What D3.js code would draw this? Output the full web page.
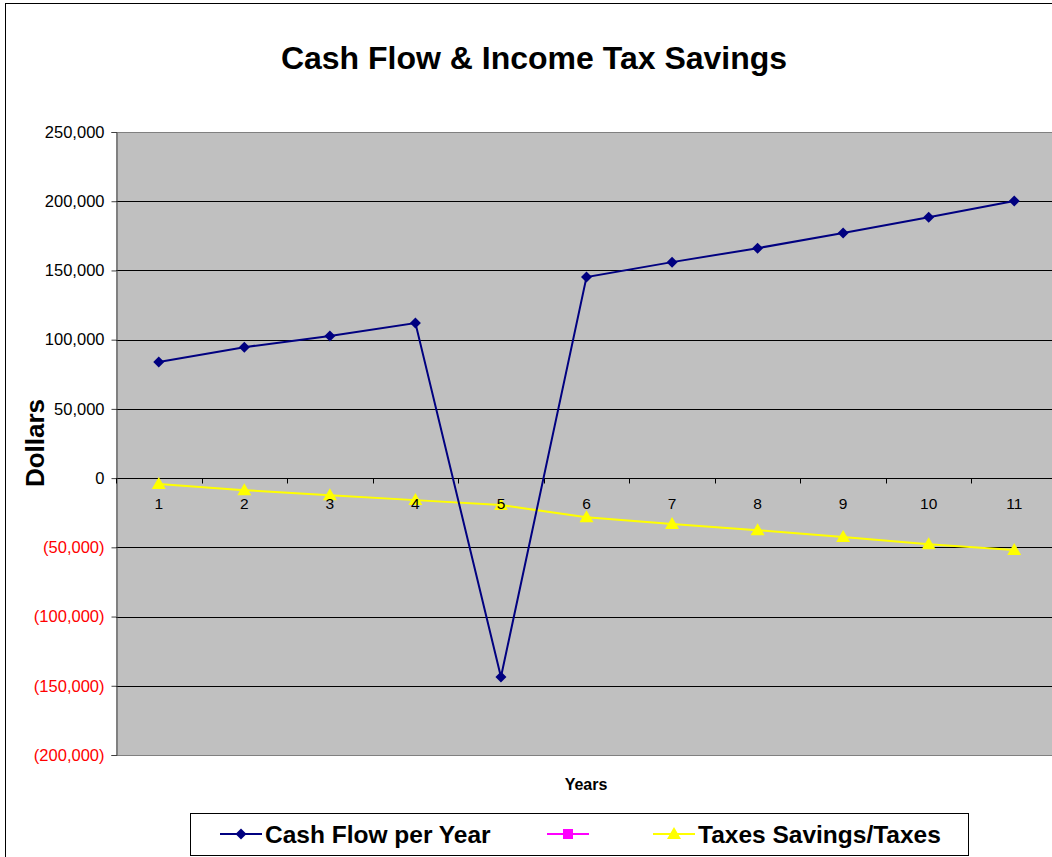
<!DOCTYPE html>
<html>
<head>
  <meta charset="utf-8">
  <title>Cash Flow & Income Tax Savings</title>
  <script src="https://cdn.jsdelivr.net/npm/d3@7"></script>
  <style>
    body { margin: 0; background: #fff; }
    text { font-family: Arial, "Liberation Sans", sans-serif; }
  </style>
</head>
<body>
  <script type="text/javascript">
    // data
    var years = [1, 2, 3, 4, 5, 6, 7, 8, 9, 10, 11];
    var cashFlow = [83800, 94600, 102600, 112000, -143700, 145200, 156000, 166100, 177000, 188500, 200100];
    var taxSavings = [-4300, -8700, -12300, -15900, -19500, -28200, -33200, -37600, -42600, -47700, -52000];
    var blankSeries = []; // third series has no visible points
    var yTicks = [250000, 200000, 150000, 100000, 50000, 0, -50000, -100000, -150000, -200000];
    var legendNames = ["Cash Flow per Year", "", "Taxes Savings/Taxes"];

    var w = 1052, h = 857;
    var plot = { left: 116, right: 1057, top: 132, bottom: 755 };

    var svg = d3.select("body").append("svg")
      .attr("width", w)
      .attr("height", h);

    // outer chart border (runs off the window on right and bottom)
    svg.append("rect")
      .attr("x", 5.5).attr("y", 3.5)
      .attr("width", 1100).attr("height", 900)
      .attr("fill", "#fff").attr("stroke", "#000");

    var x = d3.scaleBand().domain(years).range([plot.left, plot.right]).padding(0);
    var y = d3.scaleLinear().domain([-200000, 250000]).range([plot.bottom, plot.top]);
    var cx = d => x(d) + x.bandwidth() / 2;

    // plot background
    svg.append("rect")
      .attr("x", plot.left).attr("y", plot.top)
      .attr("width", plot.right - plot.left).attr("height", plot.bottom - plot.top)
      .attr("fill", "#c0c0c0");

    // gridlines
    svg.append("g").selectAll("line")
      .data(yTicks)
      .enter().append("line")
      .attr("x1", plot.left).attr("x2", plot.right)
      .attr("y1", d => Math.round(y(d)) + 0.5).attr("y2", d => Math.round(y(d)) + 0.5)
      .attr("stroke", d => (d === 250000 || d === -200000) ? "#808080" : "#000")
      .attr("stroke-width", 1);

    // y axis
    var fmt = d3.format(",");
    var yAxis = svg.append("g")
      .attr("transform", "translate(" + (plot.left + 0.5) + ",0)")
      .call(d3.axisLeft(y).tickValues(yTicks).tickSize(5).tickPadding(7)
        .tickFormat(d => d < 0 ? "(" + fmt(-d) + ")" : fmt(d)));
    yAxis.select(".domain").attr("stroke", "#404040");
    yAxis.selectAll(".tick line").attr("stroke", "#404040");
    yAxis.selectAll(".tick text")
      .attr("font-size", 16.5)
      .attr("fill", d => d < 0 ? "#ff0000" : "#000");

    // x axis ticks on the zero line, between categories
    var zeroY = Math.round(y(0)) + 0.5;
    var bounds = years.map(d => x(d)).concat([plot.right]);
    svg.append("g").selectAll("line")
      .data(bounds)
      .enter().append("line")
      .attr("x1", d => Math.round(d) + 0.5).attr("x2", d => Math.round(d) + 0.5)
      .attr("y1", zeroY).attr("y2", zeroY + 5)
      .attr("stroke", "#000");

    // taxes series
    var taxData = years.map((d, i) => ({ year: d, v: taxSavings[i] }));
    svg.append("path")
      .datum(taxData)
      .attr("fill", "none").attr("stroke", "#ffff00").attr("stroke-width", 2)
      .attr("d", d3.line().x(d => cx(d.year)).y(d => y(d.v)));
    svg.append("g").selectAll("path")
      .data(taxData)
      .enter().append("path")
      .attr("transform", d => "translate(" + cx(d.year) + "," + y(d.v) + ")")
      .attr("d", "M0,-7L7,5L-7,5Z")
      .attr("fill", "#ffff00");

    // category labels sit on top of the yellow markers
    svg.append("g").selectAll("text")
      .data(years)
      .enter().append("text")
      .attr("x", d => cx(d))
      .attr("y", zeroY + 30)
      .attr("text-anchor", "middle")
      .attr("font-size", 15.5)
      .text(d => d);

    // cash flow series
    var cashData = years.map((d, i) => ({ year: d, v: cashFlow[i] }));
    svg.append("path")
      .datum(cashData)
      .attr("fill", "none").attr("stroke", "#000080").attr("stroke-width", 2)
      .attr("d", d3.line().x(d => cx(d.year)).y(d => y(d.v)));
    svg.append("g").selectAll("path")
      .data(cashData)
      .enter().append("path")
      .attr("transform", d => "translate(" + cx(d.year) + "," + y(d.v) + ")")
      .attr("d", "M0,-5.5L5.5,0L0,5.5L-5.5,0Z")
      .attr("fill", "#000080");

    // titles
    svg.append("text")
      .attr("x", 534).attr("y", 69)
      .attr("text-anchor", "middle")
      .attr("font-size", 32).attr("font-weight", "bold")
      .text("Cash Flow & Income Tax Savings");
    svg.append("text")
      .attr("transform", "translate(44,443) rotate(-90)")
      .attr("text-anchor", "middle")
      .attr("font-size", 26).attr("font-weight", "bold")
      .text("Dollars");
    svg.append("text")
      .attr("x", 586).attr("y", 790)
      .attr("text-anchor", "middle")
      .attr("font-size", 16).attr("font-weight", "bold")
      .text("Years");

    // legend
    var legend = svg.append("g");
    legend.append("rect")
      .attr("x", 190.5).attr("y", 813.5)
      .attr("width", 778).attr("height", 42)
      .attr("fill", "#fff").attr("stroke", "#000");
    var legendItems = [
      { x: 220, color: "#000080", shape: "M0,-5.5L5.5,0L0,5.5L-5.5,0Z", name: legendNames[0] },
      { x: 547, color: "#ff00ff", shape: "M-5,-5L5,-5L5,5L-5,5Z", name: legendNames[1] },
      { x: 653, color: "#ffff00", shape: "M0,-7L7,5L-7,5Z", name: legendNames[2] }
    ];
    var li = legend.selectAll("g.item")
      .data(legendItems)
      .enter().append("g")
      .attr("class", "item")
      .attr("transform", d => "translate(" + d.x + ",834)");
    li.append("line")
      .attr("x1", 0).attr("x2", 42)
      .attr("stroke", d => d.color).attr("stroke-width", 2);
    li.append("path")
      .attr("transform", "translate(21,0)")
      .attr("d", d => d.shape)
      .attr("fill", d => d.color);
    li.append("text")
      .attr("x", 45).attr("y", 9)
      .attr("font-size", 24.5).attr("font-weight", "bold")
      .text(d => d.name);
  </script>
</body>
</html>
